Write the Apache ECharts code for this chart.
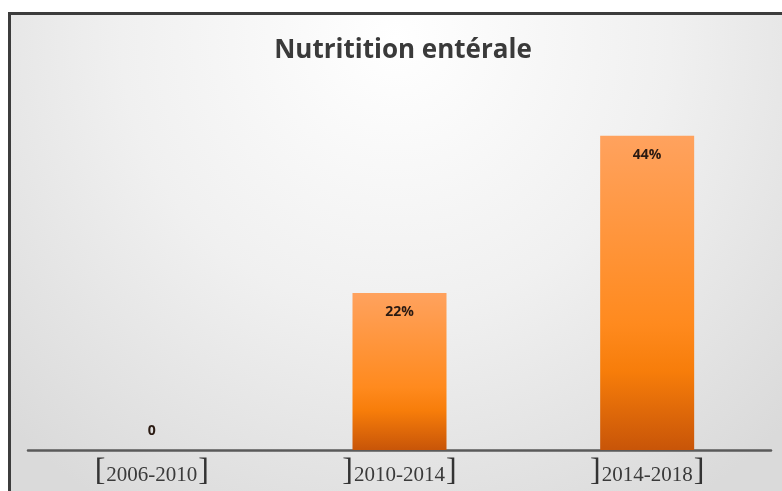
<!DOCTYPE html>
<html><head><meta charset="utf-8">
<script src="https://cdn.jsdelivr.net/npm/echarts@6/dist/echarts.min.js"></script>
<style>html,body{margin:0;padding:0;background:#fff}#c{width:782px;height:491px}</style>
</head><body><div id="c"></div>
<script>
var categories = ['2006-2010', '2010-2014', '2014-2018'];
var leftBrackets = ['[', ']', ']'];
var values = [0, 22, 44];
var titleText = 'Nutritition entérale';

var chart = echarts.init(document.getElementById('c'));
chart.setOption({
  animation: false,
  graphic: [
    { type: 'rect', shape: { x: 10, y: 14, width: 772, height: 477 }, silent: true, z: -10,
      style: { fill: { type: 'radial', x: 0.5, y: 0.05, r: 1.15,
        colorStops: [{ offset: 0, color: '#ffffff' }, { offset: 0.5, color: '#f0f0f0' }, { offset: 1, color: '#dadada' }] } } },
    { type: 'rect', shape: { x: 8, y: 12, width: 3, height: 479 }, silent: true, z: -5, style: { fill: '#3c3c3c' } },
    { type: 'rect', shape: { x: 8, y: 12, width: 774, height: 3 }, silent: true, z: -5, style: { fill: '#3c3c3c' } }
  ],
  title: {
    text: titleText, left: 398, top: 33, textAlign: 'center',
    textStyle: { fontFamily: 'Open Sans', fontWeight: 'bold', fontSize: 26, color: '#3a3a3a' }
  },
  grid: { left: 28, right: 11, top: 93, bottom: 41 },
  xAxis: {
    type: 'category', data: categories,
    axisLine: { lineStyle: { color: '#5a5a5a', width: 2.5 } },
    axisTick: { show: false },
    axisLabel: {
      margin: 6,
      formatter: function (v, i) {
        return '{b|' + leftBrackets[i] + '}{t|' + v + '}{b|]}';
      },
      rich: {
        b: { fontFamily: 'Liberation Serif', fontSize: 32, color: '#333333', verticalAlign: 'middle', lineHeight: 32 },
        t: { fontFamily: 'Liberation Serif', fontSize: 21, color: '#3a3a3a', verticalAlign: 'middle', lineHeight: 32, padding: [6, 1, 0, 1] }
      }
    }
  },
  yAxis: { type: 'value', min: 0, max: 50, show: false, splitLine: { show: false } },
  series: [{
    type: 'bar', barWidth: 94,
    data: values.map(function (v) {
      return v === 0 ? { value: v, label: { position: 'top', distance: 12 } } : v;
    }),
    itemStyle: { color: { type: 'linear', x: 0, y: 0, x2: 0, y2: 1,
      colorStops: [{ offset: 0, color: '#ffa25e' }, { offset: 0.6, color: '#ff8a1e' }, { offset: 0.75, color: '#f77d0a' }, { offset: 1, color: '#c85508' }] } },
    label: {
      show: true,
      position: 'insideTop',
      formatter: function (p) { return p.value === 0 ? '0' : p.value + '%'; },
      fontFamily: 'Open Sans', fontWeight: 'bold', fontSize: 14, color: '#2a1a12', distance: 12
    }
  }]
});
</script></body></html>
